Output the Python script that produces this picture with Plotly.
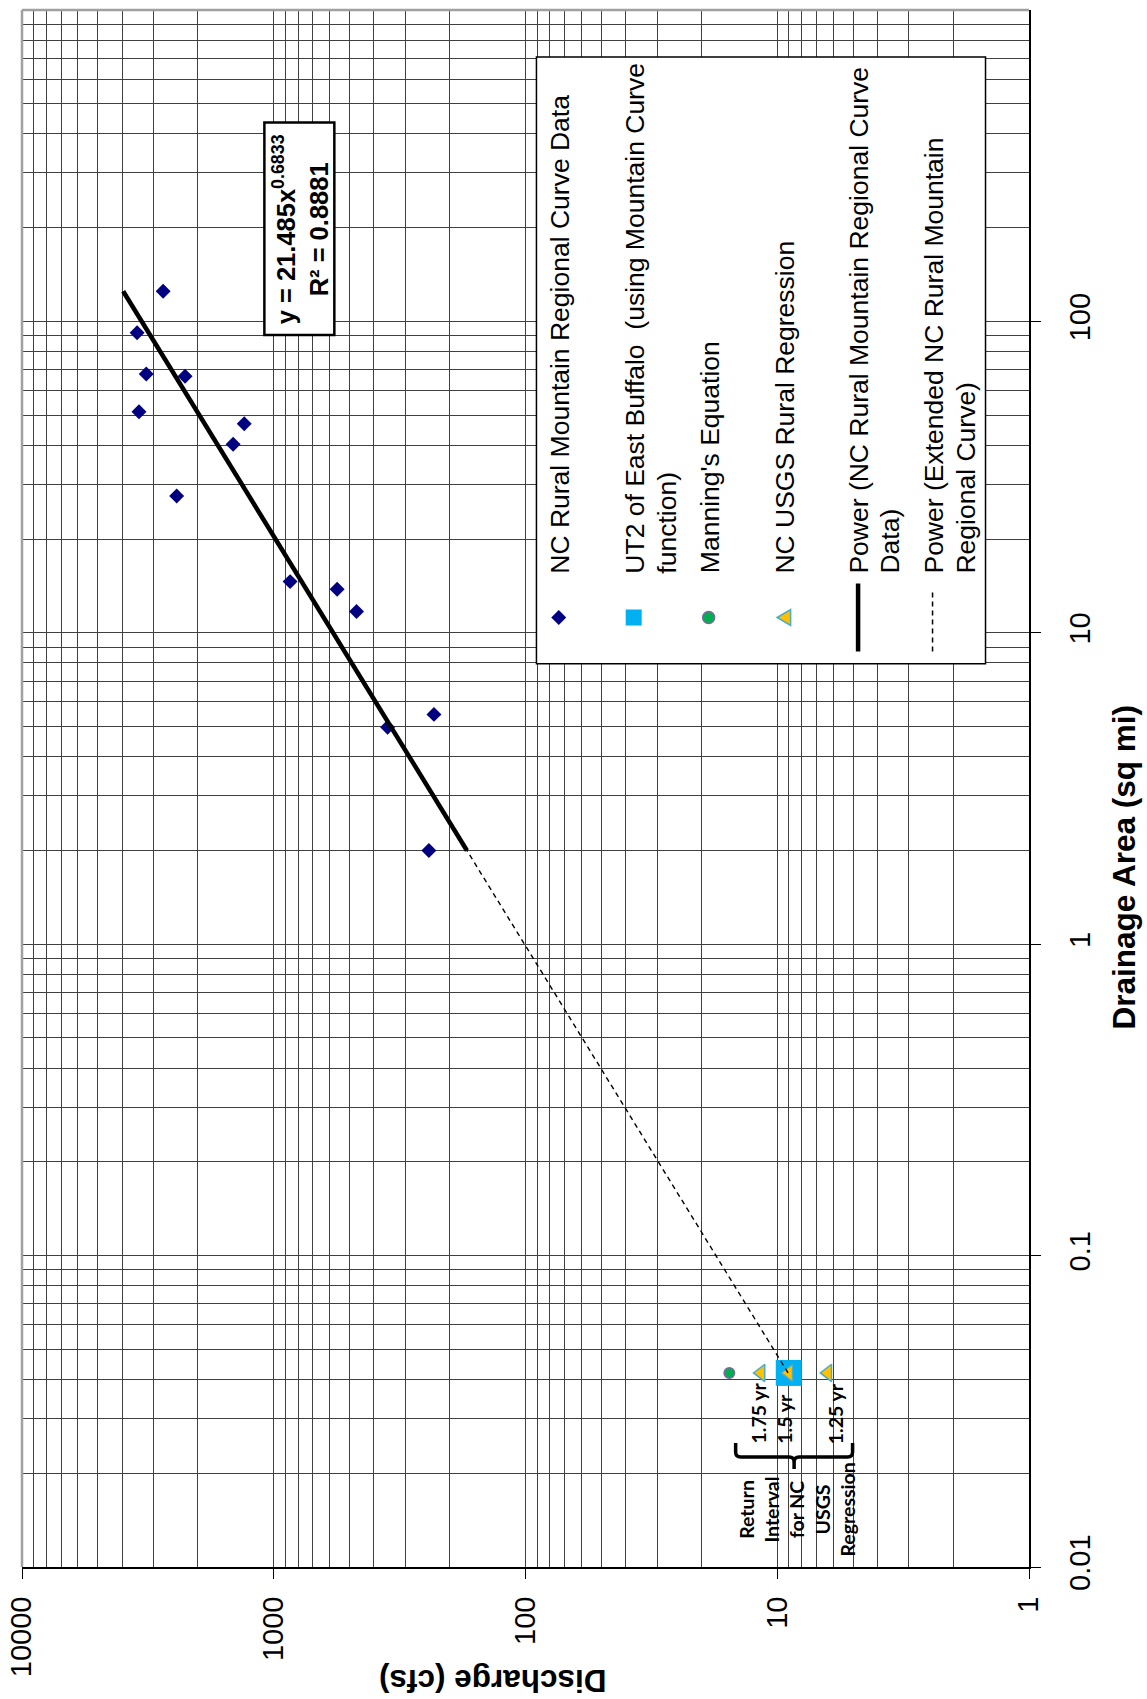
import numpy as np
import plotly.graph_objects as go

# NC Rural Mountain regional curve survey data
area_sqmi = [125, 92, 67.8, 66.7, 51.3, 46.9, 40.3, 27.5, 14.6, 13.8, 11.7, 4.97, 5.47, 2.0]
discharge_cfs = [2750, 3490, 3210, 2250, 3430, 1310, 1450, 2430, 861, 560, 469, 353, 231, 242]

# UT2 of East Buffalo site estimates
site_area = [0.042]
ut2_discharge = [9.0]
manning_discharge = [15.5]
usgs_discharge = [11.6, 9.0, 6.3]
usgs_labels = ["1.75 yr", "1.5 yr", "1.25 yr"]

equation_text = "y = 21.485x<sup>0.6833</sup><br>R² = 0.8881"

x_ticks = [1, 10, 100, 1000, 10000]
y_ticks = [0.01, 0.1, 1, 10, 100]

# power-law trend line through the regional data (straight in log-log space)
slope, intercept = np.polyfit(np.log10(area_sqmi), np.log10(discharge_cfs), 1)


def power_q(a):
    return 10 ** (intercept + slope * np.log10(np.asarray(a, dtype=float)))


fit_area = np.array([min(area_sqmi), max(area_sqmi)])
ext_area = np.array([site_area[0], min(area_sqmi)])

FONT = "Liberation Sans, Arial, sans-serif"
CAL = "Lato, Carlito, sans-serif"

# plot-area pixel frame, used to place the hand-built legend and notes
L, R, T, B = 22, 1029.5, 10, 1567
W, H = 1147, 1699


def fx(p):
    return (p - L) / (R - L)


def fy(p):
    return (B - p) / (B - T)


fig = go.Figure()

fig.add_trace(go.Scatter(
    x=discharge_cfs, y=area_sqmi, mode="markers",
    marker=dict(symbol="diamond", size=11.5, color="#000080"),
    name="NC Rural Mountain Regional Curve Data"))
fig.add_trace(go.Scatter(
    x=ut2_discharge, y=site_area, mode="markers",
    marker=dict(symbol="square", size=26, color="#00B0F0"),
    name="UT2 of East Buffalo"))
fig.add_trace(go.Scatter(
    x=manning_discharge, y=site_area, mode="markers",
    marker=dict(symbol="circle", size=10.5, color="#00B050",
                line=dict(color="#8064A2", width=1.5)),
    name="Manning's Equation"))
fig.add_trace(go.Scatter(
    x=usgs_discharge, y=site_area * len(usgs_discharge), mode="markers",
    marker=dict(symbol="triangle-left", size=15, color="#FFC000",
                line=dict(color="#4BACC6", width=1.5)),
    name="NC USGS Rural Regression"))
fig.add_trace(go.Scatter(
    x=power_q(ext_area), y=ext_area, mode="lines",
    line=dict(color="black", width=1.4, dash="5px,4px"),
    name="Power (Extended)"))
fig.add_trace(go.Scatter(
    x=power_q(fit_area), y=fit_area, mode="lines",
    line=dict(color="black", width=4.5),
    name="Power"))

grid_col = "#404040"


def minor_vals(lo, hi):
    return [m * 10 ** e for e in range(lo, hi) for m in range(2, 10)]


fig.update_xaxes(
    type="log", range=[4, 0], automargin=False,
    tickvals=x_ticks, ticktext=[str(v) for v in x_ticks],
    tickangle=-90, ticks="outside", ticklen=10, tickcolor="black", tickwidth=1,
    ticklabelstandoff=6,
    tickfont=dict(family=FONT, size=29, color="black"),
    showline=True, linecolor="black", linewidth=2,
    showgrid=True, gridcolor=grid_col, gridwidth=1, zeroline=False,
    minor=dict(tickmode="array", tickvals=minor_vals(0, 4), showgrid=True,
               gridcolor=grid_col, gridwidth=1, ticks=""),
)
fig.update_yaxes(
    type="log", range=[-2, 3], side="right", automargin=False,
    tickvals=y_ticks, ticktext=["0.01", "0.1", "1", "10", "100"],
    tickangle=-90, ticks="outside", ticklen=10, tickcolor="black", tickwidth=1,
    ticklabelstandoff=14,
    tickfont=dict(family=FONT, size=29, color="black"),
    showline=True, linecolor="black", linewidth=2,
    showgrid=True, gridcolor=grid_col, gridwidth=1, zeroline=False,
    minor=dict(tickmode="array", tickvals=minor_vals(-2, 3), showgrid=True,
               gridcolor=grid_col, gridwidth=1, ticks=""),
)

shapes = []
# grey plot-area frame on the top and left edges
shapes.append(dict(type="line", xref="paper", yref="paper", x0=0, x1=1, y0=1, y1=1,
                   line=dict(color="#a0a0a0", width=2.5)))
shapes.append(dict(type="line", xref="paper", yref="paper", x0=0, x1=0, y0=0, y1=1,
                   line=dict(color="#a0a0a0", width=2.5)))
# equation box
shapes.append(dict(type="rect", xref="paper", yref="paper",
                   x0=fx(264.5), x1=fx(334.5), y0=fy(335), y1=fy(122.5),
                   line=dict(color="black", width=2.5), fillcolor="white"))
# legend box
shapes.append(dict(type="rect", xref="paper", yref="paper",
                   x0=fx(536.7), x1=fx(986), y0=fy(663.7), y1=fy(57),
                   line=dict(color="black", width=1.5), fillcolor="white"))

sym_y = 617.5


def poly(points):
    d = "M " + " L ".join(f"{fx(px)},{fy(py)}" for px, py in points) + " Z"
    return d


# legend swatches
shapes.append(dict(type="path", xref="paper", yref="paper",
                   path=poly([(559, sym_y - 7.5), (566.5, sym_y), (559, sym_y + 7.5), (551.5, sym_y)]),
                   fillcolor="#000080", line=dict(width=0)))
shapes.append(dict(type="rect", xref="paper", yref="paper",
                   x0=fx(626), x1=fx(642), y0=fy(sym_y + 8), y1=fy(sym_y - 8),
                   fillcolor="#00B0F0", line=dict(width=0)))
shapes.append(dict(type="circle", xref="paper", yref="paper",
                   x0=fx(703), x1=fx(715), y0=fy(sym_y + 6), y1=fy(sym_y - 6),
                   fillcolor="#00B050", line=dict(color="#8064A2", width=1.5)))
shapes.append(dict(type="path", xref="paper", yref="paper",
                   path=poly([(777.5, sym_y), (791, sym_y - 8), (791, sym_y + 8)]),
                   fillcolor="#FFC000", line=dict(color="#4BACC6", width=1.5)))
shapes.append(dict(type="line", xref="paper", yref="paper",
                   x0=fx(858.5), x1=fx(858.5), y0=fy(651.5), y1=fy(583.5),
                   line=dict(color="black", width=4.5)))
shapes.append(dict(type="line", xref="paper", yref="paper",
                   x0=fx(933), x1=fx(933), y0=fy(651.5), y1=fy(589),
                   line=dict(color="black", width=1.5, dash="5px,4px")))

# bracket grouping the return-interval labels
bl, bm, br_, btop, bmid, bnub, rc = 736, 794.5, 853, 1443, 1457, 1469, 5
bracket = (
    f"M {fx(bl)},{fy(btop)} L {fx(bl)},{fy(bmid - rc)} "
    f"Q {fx(bl)},{fy(bmid)} {fx(bl + rc)},{fy(bmid)} "
    f"L {fx(bm - rc)},{fy(bmid)} Q {fx(bm)},{fy(bmid)} {fx(bm)},{fy(bmid + rc)} "
    f"L {fx(bm)},{fy(bnub)} M {fx(bm)},{fy(bmid + rc)} "
    f"Q {fx(bm)},{fy(bmid)} {fx(bm + rc)},{fy(bmid)} "
    f"L {fx(br_ - rc)},{fy(bmid)} Q {fx(br_)},{fy(bmid)} {fx(br_)},{fy(bmid - rc)} "
    f"L {fx(br_)},{fy(btop)}"
)
shapes.append(dict(type="path", xref="paper", yref="paper", path=bracket,
                   line=dict(color="black", width=3.5)))

annotations = []

legend_lines = [
    ("NC Rural Mountain Regional Curve Data", 560),
    ("UT2 of East Buffalo  (using Mountain Curve", 635),
    ("function)", 666.5),
    ("Manning's Equation", 710),
    ("NC USGS Rural Regression", 785),
    ("Power (NC Rural Mountain Regional Curve", 859),
    ("Data)", 890),
    ("Power (Extended NC Rural Mountain", 933.5),
    ("Regional Curve)", 966),
]
for txt, cx in legend_lines:
    annotations.append(dict(
        text=txt.replace("  ", "\u00a0 "), xref="paper", yref="paper",
        x=fx(cx), y=fy(575.5), xanchor="center", yanchor="bottom",
        textangle=-90, showarrow=False,
        font=dict(family=FONT, size=26.5, color="black")))

annotations.append(dict(
    text="<b>" + equation_text.replace("<br>", "</b><br><b>") + "</b>",
    xref="paper", yref="paper", x=fx(301.5), y=fy(229),
    xanchor="center", yanchor="middle", align="center",
    textangle=-90, showarrow=False,
    font=dict(family=FONT, size=25.5, color="black")))

# axis titles
annotations.append(dict(
    text="<b>Drainage Area (sq mi)</b>", xref="paper", yref="paper",
    x=fx(1125), y=fy(867), xanchor="center", yanchor="middle",
    textangle=-90, showarrow=False,
    font=dict(family=FONT, size=31.5, color="black")))
annotations.append(dict(
    text="<b>Discharge (cfs)</b>", xref="paper", yref="paper",
    x=fx(493), y=fy(1681), xanchor="center", yanchor="middle",
    textangle=180, showarrow=False,
    font=dict(family=FONT, size=31.5, color="black")))

# return-interval labels beside the regression points
label_shift = [-3, -5, 8]
for q, lab, dx in zip(usgs_discharge, usgs_labels, label_shift):
    annotations.append(dict(
        text=f"<b>{lab}</b>", xref="x", yref="paper",
        x=np.log10(q), y=fy(1446), xshift=dx,
        xanchor="center", yanchor="bottom", textangle=-90, showarrow=False,
        font=dict(family=CAL, size=19.5, color="black")))

annotations.append(dict(
    text="<b>Return<br>Interval<br>for NC<br>USGS<br>Regression</b>",
    xref="paper", yref="paper", x=fx(797), y=fy(1510),
    xanchor="center", yanchor="middle", align="center",
    textangle=-90, showarrow=False,
    font=dict(family=CAL, size=19.5, color="black")))

fig.update_layout(
    width=W, height=H,
    margin=dict(l=L, r=W - R, t=T, b=H - B, pad=0),
    paper_bgcolor="white", plot_bgcolor="white",
    showlegend=False,
    shapes=shapes, annotations=annotations,
)

fig.write_html("out.html")
